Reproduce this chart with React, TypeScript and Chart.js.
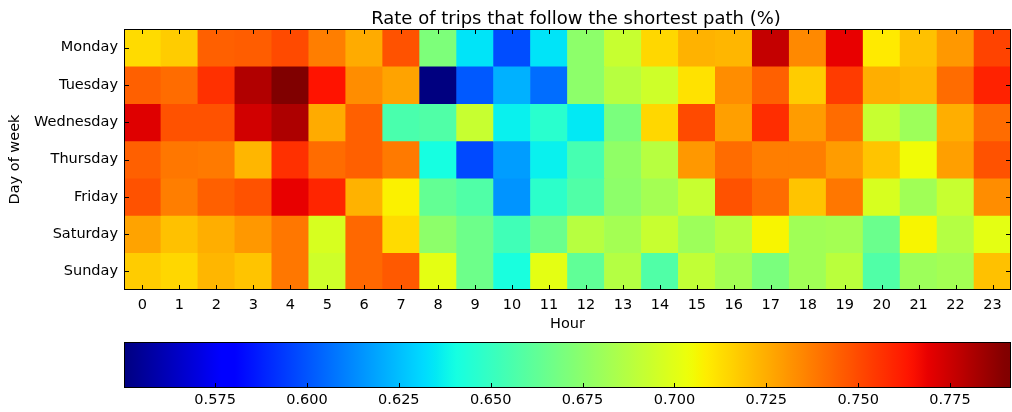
import React, { useEffect, useRef } from "react";
import { Chart, registerables } from "chart.js";

Chart.register(...registerables);

const titleText = "Rate of trips that follow the shortest path (%)";
const xTitle = "Hour";
const yTitle = "Day of week";

const days = ["Monday", "Tuesday", "Wednesday", "Thursday", "Friday", "Saturday", "Sunday"];
const hours = ["0", "1", "2", "3", "4", "5", "6", "7", "8", "9", "10", "11", "12", "13", "14", "15", "16", "17", "18", "19", "20", "21", "22", "23"];

const monday = [0.714, 0.718, 0.745, 0.746, 0.751, 0.737, 0.726, 0.749, 0.671, 0.635, 0.599, 0.635, 0.676, 0.693, 0.715, 0.724, 0.723, 0.777, 0.735, 0.769, 0.710, 0.720, 0.731, 0.752];
const tuesday = [0.745, 0.742, 0.757, 0.781, 0.7916, 0.765, 0.734, 0.728, 0.5502, 0.602, 0.622, 0.606, 0.676, 0.688, 0.695, 0.712, 0.734, 0.745, 0.718, 0.754, 0.725, 0.723, 0.742, 0.761];
const wednesday = [0.771, 0.749, 0.749, 0.774, 0.782, 0.726, 0.745, 0.656, 0.658, 0.693, 0.637, 0.647, 0.636, 0.670, 0.715, 0.751, 0.729, 0.758, 0.730, 0.742, 0.693, 0.681, 0.725, 0.742];
const thursday = [0.745, 0.739, 0.738, 0.723, 0.757, 0.742, 0.745, 0.738, 0.641, 0.598, 0.618, 0.637, 0.655, 0.677, 0.688, 0.731, 0.742, 0.737, 0.737, 0.730, 0.719, 0.705, 0.729, 0.749];
const friday = [0.749, 0.737, 0.745, 0.749, 0.769, 0.760, 0.724, 0.708, 0.664, 0.658, 0.616, 0.648, 0.658, 0.676, 0.683, 0.693, 0.749, 0.742, 0.719, 0.739, 0.698, 0.682, 0.693, 0.734];
const saturday = [0.728, 0.720, 0.725, 0.731, 0.739, 0.698, 0.743, 0.714, 0.676, 0.667, 0.653, 0.666, 0.688, 0.683, 0.693, 0.681, 0.688, 0.707, 0.682, 0.683, 0.666, 0.707, 0.687, 0.702];
const sunday = [0.718, 0.715, 0.723, 0.719, 0.739, 0.695, 0.743, 0.747, 0.702, 0.667, 0.642, 0.702, 0.663, 0.687, 0.658, 0.691, 0.683, 0.670, 0.682, 0.689, 0.658, 0.681, 0.683, 0.720];

const colorbarTicks = [0.575, 0.6, 0.625, 0.65, 0.675, 0.7, 0.725, 0.75, 0.775];

const FONT = "'DejaVu Sans', sans-serif";
const TEXT = "#000000";

const jetRed: number[][] = [[0, 0], [0.35, 0], [0.66, 1], [0.89, 1], [1, 0.5]];
const jetGreen: number[][] = [[0, 0], [0.125, 0], [0.375, 1], [0.64, 1], [0.91, 0], [1, 0]];
const jetBlue: number[][] = [[0, 0.5], [0.11, 1], [0.34, 1], [0.65, 0], [1, 0]];

function seg(s: number[][], t: number) {
  if (t <= s[0][0]) return s[0][1];
  for (let i = 1; i < s.length; i++) {
    if (t <= s[i][0]) {
      const [x0, y0] = s[i - 1];
      const [x1, y1] = s[i];
      return y0 + ((t - x0) / (x1 - x0)) * (y1 - y0);
    }
  }
  return s[s.length - 1][1];
}

function jet(t: number) {
  const q = Math.min(1, Math.max(0, t));
  const k = Math.min(255, Math.floor(q * 256)) / 255;
  const r = Math.round(seg(jetRed, k) * 255);
  const g = Math.round(seg(jetGreen, k) * 255);
  const b = Math.round(seg(jetBlue, k) * 255);
  return `rgb(${r},${g},${b})`;
}

const framePlugin = {
  id: "frame",
  afterDatasetsDraw(chart: any, _args: any, opts: any) {
    const { ctx, chartArea: a } = chart;
    const len = 5;
    ctx.save();
    ctx.strokeStyle = "#000";
    ctx.lineWidth = 1;
    ctx.beginPath();
    const xs = chart.scales.x;
    xs.ticks.forEach((t: any, i: number) => {
      const px = Math.round(opts.category ? xs.getPixelForTick(i) : xs.getPixelForValue(t.value)) + 0.5;
      if (opts.top) {
        ctx.moveTo(px, a.top);
        ctx.lineTo(px, a.top + len);
      }
      ctx.moveTo(px, a.bottom);
      ctx.lineTo(px, a.bottom - len);
    });
    if (opts.yTicks) {
      const ys = chart.scales.y;
      ys.ticks.forEach((t: any) => {
        const py = Math.round(ys.getPixelForValue(t.value)) + 0.5;
        ctx.moveTo(a.left, py);
        ctx.lineTo(a.left + len, py);
        ctx.moveTo(a.right, py);
        ctx.lineTo(a.right - len, py);
      });
    }
    ctx.stroke();
    ctx.strokeRect(Math.round(a.left) + 0.5, Math.round(a.top) + 0.5, Math.round(a.right - a.left) - 1, Math.round(a.bottom - a.top) - 1);
    ctx.restore();
  },
};

const titlePlugin = {
  id: "heatTitle",
  afterDraw(chart: any, _args: any, opts: any) {
    const { ctx } = chart;
    ctx.save();
    ctx.font = `${opts.size}px ${FONT}`;
    ctx.fillStyle = TEXT;
    ctx.textAlign = "center";
    ctx.textBaseline = "alphabetic";
    ctx.fillText(opts.text, opts.x, opts.y);
    ctx.restore();
  },
};

export default function App() {
  const heatRef = useRef<HTMLCanvasElement>(null);
  const barRef = useRef<HTMLCanvasElement>(null);

  useEffect(() => {
    Chart.defaults.font.family = FONT;
    const rows = [monday, tuesday, wednesday, thursday, friday, saturday, sunday];
    const all = rows.flat();
    const vmin = Math.min(...all);
    const vmax = Math.max(...all);
    const norm = (v: number) => (v - vmin) / (vmax - vmin);

    const heat = new Chart(heatRef.current as HTMLCanvasElement, {
      type: "bar",
      data: {
        labels: hours,
        datasets: days.map((d, i) => ({
          label: d,
          data: rows[i].map(() => [i - 0.5, i + 0.5]),
          backgroundColor: rows[i].map((v) => jet(norm(v))),
          borderWidth: 0,
          grouped: false,
          barPercentage: 1,
          categoryPercentage: 1,
        })) as any,
      },
      options: {
        animation: false,
        responsive: false,
        devicePixelRatio: 1,
        layout: { padding: { top: 29, right: 1, left: 0, bottom: 0 } },
        plugins: {
          legend: { display: false },
          tooltip: { enabled: false },
          title: { display: false },
          frame: { category: true, top: true, yTicks: true },
          heatTitle: { text: titleText, size: 18, x: 576, y: 24 },
        } as any,
        scales: {
          x: {
            type: "category",
            offset: true,
            grid: { display: false, drawTicks: false },
            border: { display: false },
            ticks: { color: TEXT, font: { size: 14.5 }, padding: 7, maxRotation: 0, autoSkip: false },
            title: { display: true, text: xTitle, color: TEXT, font: { size: 14.5 }, padding: { top: 0, bottom: 7 } },
            afterFit: (s: any) => {
              s.height = 50;
            },
          },
          y: {
            type: "linear",
            min: -0.5,
            max: 6.5,
            reverse: true,
            afterBuildTicks: (s: any) => {
              s.ticks = days.map((_, i) => ({ value: i }));
            },
            grid: { display: false, drawTicks: false },
            border: { display: false },
            ticks: {
              color: TEXT,
              font: { size: 14.5 },
              padding: 6,
              autoSkip: false,
              callback: (v: any) => days[Math.round(Number(v))] ?? "",
            },
            title: { display: true, text: yTitle, color: TEXT, font: { size: 14.5 }, padding: { top: 7, bottom: 0 } },
            afterFit: (s: any) => {
              s.width = 124;
            },
          },
        },
      } as any,
      plugins: [framePlugin, titlePlugin],
    });

    const bar = new Chart(barRef.current as HTMLCanvasElement, {
      type: "bar",
      data: {
        labels: [""],
        datasets: [
          {
            data: [[vmin, vmax]] as any,
            borderWidth: 0,
            barPercentage: 1,
            categoryPercentage: 1,
            backgroundColor: (c: any) => {
              const a = c.chart.chartArea;
              if (!a) return "transparent";
              const g = c.chart.ctx.createLinearGradient(a.left, 0, a.right, 0);
              const n = 128;
              for (let k = 0; k <= n; k++) g.addColorStop(k / n, jet(k / n));
              return g;
            },
          },
        ],
      },
      options: {
        indexAxis: "y",
        animation: false,
        responsive: false,
        devicePixelRatio: 1,
        layout: { padding: { top: 12, right: 1, left: 124, bottom: 0 } },
        plugins: {
          legend: { display: false },
          tooltip: { enabled: false },
          frame: { category: false, top: false, yTicks: false },
        } as any,
        scales: {
          x: {
            type: "linear",
            min: vmin,
            max: vmax,
            afterBuildTicks: (s: any) => {
              s.ticks = colorbarTicks.map((v) => ({ value: v }));
            },
            grid: { display: false, drawTicks: false },
            border: { display: false },
            ticks: {
              color: TEXT,
              font: { size: 14.5 },
              padding: 4,
              autoSkip: false,
              maxRotation: 0,
              callback: (v: any) => Number(v).toFixed(3),
            },
            afterFit: (s: any) => {
              s.height = 24;
            },
          },
          y: { display: false },
        },
      } as any,
      plugins: [framePlugin],
    });

    return () => {
      heat.destroy();
      bar.destroy();
    };
  }, []);

  return (
    <div style={{ position: "absolute", left: 0, top: 0, width: 1012, height: 412, background: "#fff", overflow: "hidden" }}>
      <canvas ref={heatRef} width={1012} height={340} style={{ position: "absolute", left: 0, top: 0, display: "block" }} />
      <canvas ref={barRef} width={1012} height={82} style={{ position: "absolute", left: 0, top: 330, display: "block" }} />
    </div>
  );
}
